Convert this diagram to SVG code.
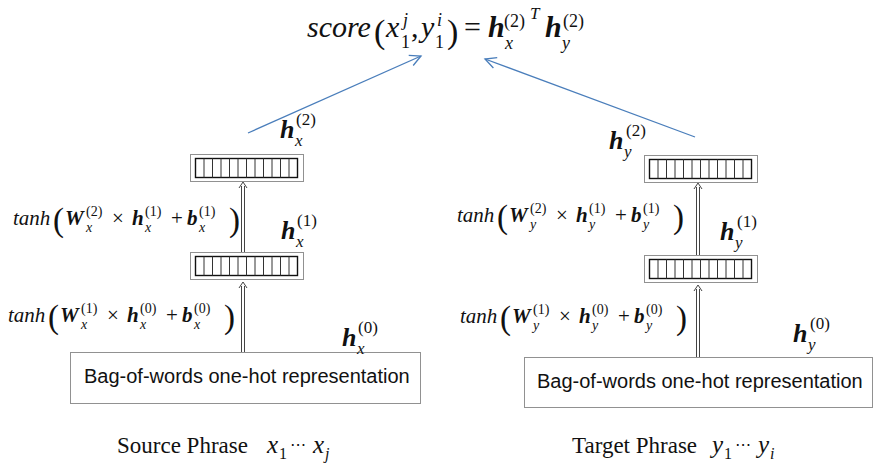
<svg xmlns="http://www.w3.org/2000/svg" xmlns:xlink="http://www.w3.org/1999/xlink" width="875" height="467" viewBox="0 0 875 467">
<style>
.m{font-family:"Liberation Serif","Times New Roman",serif;fill:#111}
.i{font-style:italic}
.bi{font-style:italic;font-weight:bold}
.f{font-size:21px}
.s{font-size:14px}
.big{font-size:33px}
.lb{font-size:26px}
.ls{font-size:17px}
.sans{font-family:"Liberation Sans",Arial,sans-serif;font-size:20px;fill:#111}
.cap{font-family:"Liberation Serif","Times New Roman",serif;font-size:23px;fill:#111}
.dot{fill:none;stroke:#222;stroke-width:1;stroke-dasharray:1 1}
.blue{fill:none;stroke:#4a7ebb;stroke-width:1.3}
.dbl{fill:none;stroke:#444;stroke-width:1}
</style>
<defs>
<marker id="vh" markerWidth="14" markerHeight="14" refX="12" refY="7" orient="auto" markerUnits="userSpaceOnUse">
<path d="M1,1.5 L12,7 L1,12.5" fill="none" stroke="#4a7ebb" stroke-width="1.3"/>
</marker>
<g id="vec">
<rect x="0.5" y="0.5" width="113" height="27" class="dot"/>
<rect x="5.5" y="4.5" width="102" height="19" fill="#fff" stroke="#111" stroke-width="1.4"/>
<path d="M14,4.5v19M22.5,4.5v19M31,4.5v19M39.5,4.5v19M48,4.5v19M56.5,4.5v19M65,4.5v19M73.5,4.5v19M82,4.5v19M90.5,4.5v19M99,4.5v19" stroke="#333" stroke-width="1"/>
</g>
</defs>

<!-- Title formula -->
<g id="title">
<text class="m i" font-size="30" x="307" y="37">score</text>
<text class="m" font-size="34" x="374" y="43">(</text>
<text class="m i" font-size="30" x="386" y="37">x</text>
<text class="m i" font-size="18" x="403" y="26">j</text>
<text class="m" font-size="18" x="401" y="48">1</text>
<text class="m" font-size="30" x="411" y="37">,</text>
<text class="m i" font-size="30" x="421" y="37">y</text>
<text class="m i" font-size="18" x="437" y="26">i</text>
<text class="m" font-size="18" x="435" y="48">1</text>
<text class="m" font-size="34" x="447" y="43">)</text>
<text class="m" font-size="30" x="464" y="37">=</text>
<text class="m bi" font-size="30" x="488" y="37">h</text>
<text class="m i" font-size="18" x="505" y="49">x</text>
<text class="m" font-size="18" x="504" y="27">(2)</text>
<text class="m i" font-size="17" x="530" y="19">T</text>
<text class="m bi" font-size="30" x="545" y="37">h</text>
<text class="m i" font-size="18" x="562" y="49">y</text>
<text class="m" font-size="18" x="563" y="27">(2)</text>
</g>

<!-- Vector nodes -->
<g id="hx2-vec"><use xlink:href="#vec" x="190" y="154"/></g>
<g id="hx1-vec"><use xlink:href="#vec" x="190" y="252"/></g>
<g id="hy2-vec"><use xlink:href="#vec" x="644" y="155"/></g>
<g id="hy1-vec"><use xlink:href="#vec" x="644" y="255"/></g>

<!-- Input boxes -->
<g id="src-bow">
<rect x="70.5" y="352.5" width="350" height="51" class="dot"/>
<text class="sans" x="84" y="383">Bag-of-words one-hot representation</text>
</g>
<g id="tgt-bow">
<rect x="524.5" y="357.5" width="348" height="50" class="dot"/>
<text class="sans" x="537" y="388">Bag-of-words one-hot representation</text>
</g>

<!-- Labels h -->
<g id="lbl-hx2">
<text class="m bi lb" x="280" y="138">h</text><text class="m i ls" x="295" y="146">x</text><text class="m ls" x="296" y="125">(2)</text>
</g>
<g id="lbl-hx1">
<text class="m bi lb" x="281" y="239">h</text><text class="m i ls" x="296" y="247">x</text><text class="m ls" x="297" y="226">(1)</text>
</g>
<g id="lbl-hx0">
<text class="m bi lb" x="342" y="346">h</text><text class="m i ls" x="357" y="354">x</text><text class="m ls" x="358" y="333">(0)</text>
</g>
<g id="lbl-hy2">
<text class="m bi lb" x="609" y="149">h</text><text class="m i ls" x="624" y="157">y</text><text class="m ls" x="626" y="136">(2)</text>
</g>
<g id="lbl-hy1">
<text class="m bi lb" x="720" y="240">h</text><text class="m i ls" x="735" y="248">y</text><text class="m ls" x="737" y="227">(1)</text>
</g>
<g id="lbl-hy0">
<text class="m bi lb" x="793" y="342">h</text><text class="m i ls" x="808" y="350">y</text><text class="m ls" x="810" y="329">(0)</text>
</g>

<!-- Transform formulas -->
<g id="fx2" transform="translate(13,225)">
<text class="m i f" x="0" y="0">tanh</text>
<text class="m big" x="40" y="6">(</text>
<text class="m bi f" x="52" y="0">W</text><text class="m i s" x="73" y="7">x</text><text class="m s" x="73" y="-9">(2)</text>
<text class="m f" x="99" y="0">×</text>
<text class="m bi f" x="119" y="0">h</text><text class="m i s" x="132" y="7">x</text><text class="m s" x="132" y="-9">(1)</text>
<text class="m f" x="158" y="0">+</text>
<text class="m bi f" x="174" y="0">b</text><text class="m i s" x="186" y="7">x</text><text class="m s" x="186" y="-9">(1)</text>
<text class="m big" x="216" y="6">)</text>
</g>
<g id="fx1" transform="translate(8,322)">
<text class="m i f" x="0" y="0">tanh</text>
<text class="m big" x="40" y="6">(</text>
<text class="m bi f" x="52" y="0">W</text><text class="m i s" x="73" y="7">x</text><text class="m s" x="73" y="-9">(1)</text>
<text class="m f" x="99" y="0">×</text>
<text class="m bi f" x="119" y="0">h</text><text class="m i s" x="132" y="7">x</text><text class="m s" x="132" y="-9">(0)</text>
<text class="m f" x="158" y="0">+</text>
<text class="m bi f" x="174" y="0">b</text><text class="m i s" x="186" y="7">x</text><text class="m s" x="186" y="-9">(0)</text>
<text class="m big" x="216" y="6">)</text>
</g>
<g id="fy2" transform="translate(457,222)">
<text class="m i f" x="0" y="0">tanh</text>
<text class="m big" x="40" y="6">(</text>
<text class="m bi f" x="52" y="0">W</text><text class="m i s" x="73" y="7">y</text><text class="m s" x="73" y="-9">(2)</text>
<text class="m f" x="99" y="0">×</text>
<text class="m bi f" x="119" y="0">h</text><text class="m i s" x="132" y="7">y</text><text class="m s" x="132" y="-9">(1)</text>
<text class="m f" x="158" y="0">+</text>
<text class="m bi f" x="174" y="0">b</text><text class="m i s" x="186" y="7">y</text><text class="m s" x="186" y="-9">(1)</text>
<text class="m big" x="216" y="6">)</text>
</g>
<g id="fy1" transform="translate(460,323)">
<text class="m i f" x="0" y="0">tanh</text>
<text class="m big" x="40" y="6">(</text>
<text class="m bi f" x="52" y="0">W</text><text class="m i s" x="73" y="7">y</text><text class="m s" x="73" y="-9">(1)</text>
<text class="m f" x="99" y="0">×</text>
<text class="m bi f" x="119" y="0">h</text><text class="m i s" x="132" y="7">y</text><text class="m s" x="132" y="-9">(0)</text>
<text class="m f" x="158" y="0">+</text>
<text class="m bi f" x="174" y="0">b</text><text class="m i s" x="186" y="7">y</text><text class="m s" x="186" y="-9">(0)</text>
<text class="m big" x="216" y="6">)</text>
</g>

<!-- Captions -->
<g id="src-caption">
<text class="cap" x="117" y="453">Source Phrase</text>
<text class="m i" font-size="25" x="267" y="453">x</text><text class="m" font-size="16" x="279" y="459">1</text>
<text font-family="DejaVu Sans,sans-serif" font-size="16" fill="#111" x="290" y="450">⋯</text>
<text class="m i" font-size="25" x="313" y="453">x</text><text class="m i" font-size="16" x="325" y="459">j</text>
</g>
<g id="tgt-caption">
<text class="cap" x="572" y="453">Target Phrase</text>
<text class="m i" font-size="25" x="712" y="453">y</text><text class="m" font-size="16" x="724" y="459">1</text>
<text font-family="DejaVu Sans,sans-serif" font-size="16" fill="#111" x="735" y="450">⋯</text>
<text class="m i" font-size="25" x="758" y="453">y</text><text class="m i" font-size="16" x="770" y="459">i</text>
</g>

<!-- Connectors -->
<g id="connectors">
<path class="blue" d="M248,133 L421,56" marker-end="url(#vh)"/>
<path class="blue" d="M695,137 L485,59" marker-end="url(#vh)"/>
<path class="dbl" d="M241.5,252 V186 M244.5,252 V186 M239,188 L243,182 L247,188"/>
<path class="dbl" d="M241.5,352 V286 M244.5,352 V286 M239,288 L243,282 L247,288"/>
<path class="dbl" d="M696.5,255 V187 M699.5,255 V187 M694,189 L698,183 L702,189"/>
<path class="dbl" d="M696.5,357 V289 M699.5,357 V289 M694,291 L698,285 L702,291"/>
</g>
</svg>
